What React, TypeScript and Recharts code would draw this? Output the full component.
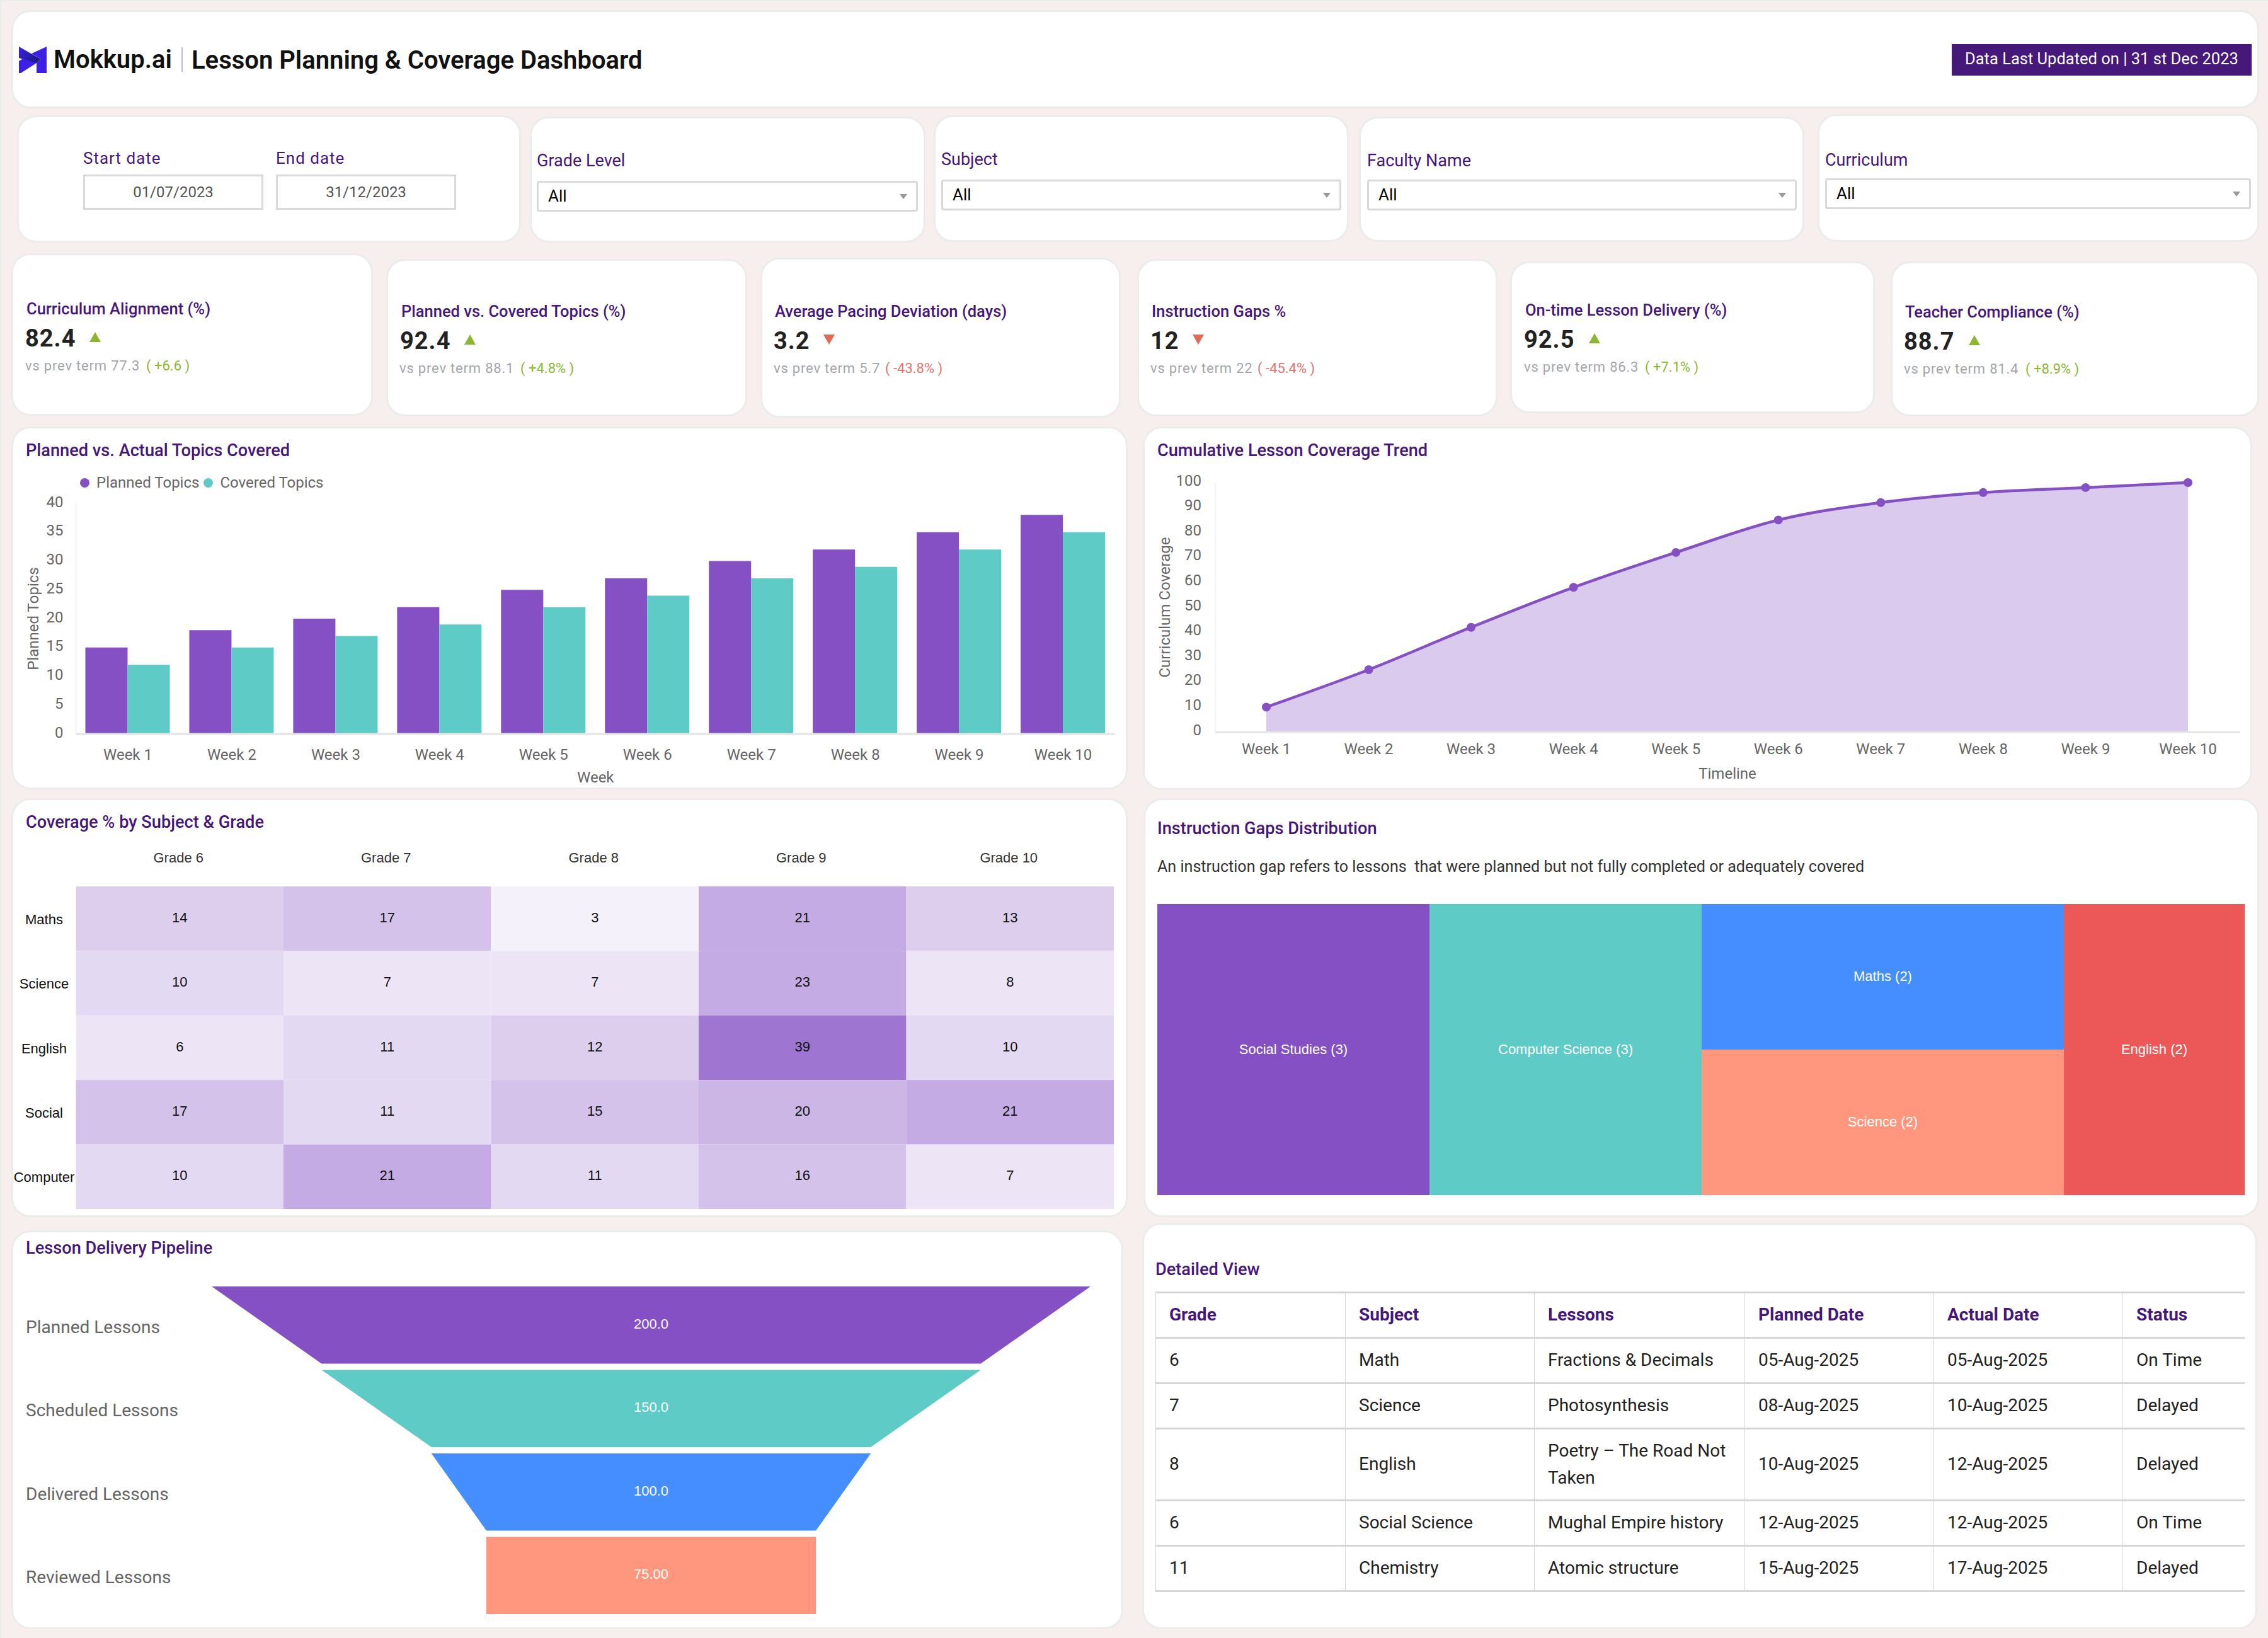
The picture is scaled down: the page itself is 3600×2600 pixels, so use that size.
import {
  BarChart, Bar, AreaChart, Area, ScatterChart, Scatter, Treemap, FunnelChart, Funnel, Trapezoid,
  XAxis, YAxis, Legend,
} from "recharts";

const WEEKS = ["Week 1", "Week 2", "Week 3", "Week 4", "Week 5", "Week 6", "Week 7", "Week 8", "Week 9", "Week 10"];
const PLANNED = [15, 18, 20, 22, 25, 27, 30, 32, 35, 38];
const COVERED = [12, 15, 17, 19, 22, 24, 27, 29, 32, 35];
const CUMULATIVE = [10, 25, 42, 58, 72, 85, 92, 96, 98, 100];

const GRADES = ["Grade 6", "Grade 7", "Grade 8", "Grade 9", "Grade 10"];
const SUBJECTS = ["Maths", "Science", "English", "Social", "Computer"];
const COVERAGE = [
  [14, 17, 3, 21, 13],
  [10, 7, 7, 23, 8],
  [6, 11, 12, 39, 10],
  [17, 11, 15, 20, 21],
  [10, 21, 11, 16, 7],
];

const GAPS = [
  { name: "Social Studies", value: 3 },
  { name: "Computer Science", value: 3 },
  { name: "Maths & Science", children: [{ name: "Maths", value: 2 }, { name: "Science", value: 2 }] },
  { name: "English", value: 2 },
];

const STAGES = ["Planned Lessons", "Scheduled Lessons", "Delivered Lessons", "Reviewed Lessons"];
const STAGE_VALUES = [200, 150, 100, 75];

const KPIS = [
  { title: "Curriculum Alignment (%)", value: "82.4", up: true, prev: "77.3", delta: "( +6.6 )" },
  { title: "Planned vs. Covered Topics (%)", value: "92.4", up: true, prev: "88.1", delta: "( +4.8% )" },
  { title: "Average Pacing Deviation (days)", value: "3.2", up: false, prev: "5.7", delta: "( -43.8% )" },
  { title: "Instruction Gaps %", value: "12", up: false, prev: "22", delta: "( -45.4% )" },
  { title: "On-time Lesson Delivery (%)", value: "92.5", up: true, prev: "86.3", delta: "( +7.1% )" },
  { title: "Teacher Compliance (%)", value: "88.7", up: true, prev: "81.4", delta: "( +8.9% )" },
];

const TABLE_HEAD = ["Grade", "Subject", "Lessons", "Planned Date", "Actual Date", "Status"];
const TABLE_ROWS = [
  ["6", "Math", "Fractions & Decimals", "05-Aug-2025", "05-Aug-2025", "On Time"],
  ["7", "Science", "Photosynthesis", "08-Aug-2025", "10-Aug-2025", "Delayed"],
  ["8", "English", "Poetry – The Road Not Taken", "10-Aug-2025", "12-Aug-2025", "Delayed"],
  ["6", "Social Science", "Mughal Empire history", "12-Aug-2025", "12-Aug-2025", "On Time"],
  ["11", "Chemistry", "Atomic structure", "15-Aug-2025", "17-Aug-2025", "Delayed"],
];

const PURPLE = "#8450c4";
const TEAL = "#5fcbc7";
const BLUE = "#448eff";
const CORAL = "#ff967d";
const RED = "#ec5857";
const INK = "#46177b";
const GREY = "#666666";
const FONT = "Roboto";
const SANS = "'Liberation Sans'";

const GAP_COLORS: Record<string, string> = {
  "Social Studies": PURPLE, "Computer Science": TEAL, Maths: BLUE, Science: CORAL, English: RED,
};
const STAGE_COLORS = [PURPLE, TEAL, BLUE, CORAL];

const barData = WEEKS.map((week, i) => ({ week, planned: PLANNED[i], covered: COVERED[i] }));
const areaData = WEEKS.map((week, i) => ({ week, coverage: CUMULATIVE[i] }));
const heatData = COVERAGE.flatMap((row, r) => row.map((v, c) => ({ col: c + 0.5, row: r + 0.5, v })));
const funnelData = STAGES.map((stage, i) => ({ stage, value: STAGE_VALUES[i], fill: STAGE_COLORS[i] }));

const axisTick = { fill: GREY, fontSize: 24, fontFamily: FONT };
const axisLabel = { fill: GREY, fontSize: 24, fontFamily: FONT };

// buckets, the scale is not quite linear
const heatFill = (v: number) => {
  const a = v <= 3 ? 0.08 : v <= 8 ? 0.15 : v <= 11 ? 0.22 : v <= 14 ? 0.28 : v <= 17 ? 0.35 : v <= 20 ? 0.42 : v <= 23 ? 0.48 : 0.79;
  return `rgb(${[132, 80, 196].map((c) => Math.round(255 - (255 - c) * a)).join(",")})`;
};

function Card({ x0, y0, x1, y1 }: { x0: number; y0: number; x1: number; y1: number }) {
  return (
    <div style={{
      position: "absolute", left: x0 - 1, top: y0 - 3, width: x1 - x0 + 2, height: y1 - y0 + 5, boxSizing: "border-box",
      background: "#fff", border: "3px solid #ececec", borderRadius: 30,
    }} />
  );
}

// text placed by its left edge and vertical centre
function T({ x, y, size, color, weight = 400, spacing = 0, font = FONT, children }: any) {
  return (
    <div style={{
      position: "absolute", left: x, top: y, transform: "translateY(-50%)", fontFamily: font, fontSize: size,
      color, fontWeight: weight, letterSpacing: spacing, whiteSpace: "pre", lineHeight: 1.2,
    }}>{children}</div>
  );
}

function Title({ x, y, children }: { x: number; y: number; children: string }) {
  return <T x={x} y={y} size={27.2} color={INK} weight={500}>{children}</T>;
}

function DateFilter({ x, label, value }: { x: number; label: string; value: string }) {
  return (
    <>
      <T x={x} y={252} size={26} color={INK} spacing={1}>{label}</T>
      <div style={{
        position: "absolute", left: x, top: 277, width: 286, height: 56, boxSizing: "border-box", border: "3px solid #d9d9d9",
        fontFamily: FONT, fontSize: 24, color: "#555", textAlign: "center", lineHeight: "50px",
      }}>{value}</div>
    </>
  );
}

function Select({ x0, x1, top, label, labelY }: { x0: number; x1: number; top: number; label: string; labelY: number }) {
  return (
    <>
      <T x={x0} y={labelY} size={27} color={INK}>{label}</T>
      <div style={{
        position: "absolute", left: x0, top, width: x1 - x0, height: 49, boxSizing: "border-box",
        border: "3px solid #d9d9d9", borderRadius: 4,
      }} />
      <T x={x0 + 18} y={top + 25} size={26} color="#000">All</T>
      <div style={{
        position: "absolute", left: x1 - 29, top: top + 21, width: 0, height: 0,
        borderLeft: "6px solid transparent", borderRight: "6px solid transparent", borderTop: "8px solid #999",
      }} />
    </>
  );
}

function Kpi({ k, x, y, triX, subX, deltaX }: any) {
  const color = k.up ? "#8db52f" : "#e06a55";
  return (
    <>
      <T x={x} y={y} size={25.5} color={INK} weight={500}>{k.title}</T>
      <T x={x - 2} y={y + 48} size={38} color="#222" weight={700} spacing={1}>{k.value}</T>
      <div style={{
        position: "absolute", left: triX - 9, top: y + 37, width: 0, height: 0,
        borderLeft: "9px solid transparent", borderRight: "9px solid transparent",
        ...(k.up ? { borderBottom: `16px solid ${color}` } : { borderTop: `16px solid ${color}` }),
      }} />
      <T x={subX} y={y + 91} size={22} color="#a3a6ab" spacing={0.8}>vs prev term {k.prev}</T>
      <T x={deltaX} y={y + 91} size={22} color={k.up ? "#8cb832" : "#e5736a"}>{k.delta}</T>
    </>
  );
}

function Chart({ left, top, children }: any) {
  return <div style={{ position: "absolute", left, top }}>{children}</div>;
}

const BarLegend = () => (
  <div style={{ display: "flex", alignItems: "center", fontFamily: FONT, fontSize: 24, color: GREY }}>
    {[["Planned Topics", PURPLE], ["Covered Topics", TEAL]].map(([name, c]) => (
      <span key={name} style={{ display: "inline-flex", alignItems: "center", marginRight: 7 }}>
        <i style={{ width: 15, height: 15, borderRadius: 8, background: c, marginRight: 11 }} />{name}
      </span>
    ))}
  </div>
);

const HEAT_W = 329.6;
const HEAT_H = 102.4;

function HeatCell({ cx, cy, payload }: any) {
  return (
    <g>
      <rect x={cx - HEAT_W / 2} y={cy - HEAT_H / 2} width={HEAT_W} height={HEAT_H} fill={heatFill(payload.v)} />
      <text x={cx} y={cy - 2} textAnchor="middle" dominantBaseline="central" fontFamily={SANS} fontSize={22} fill="#111">{payload.v}</text>
    </g>
  );
}

function GapCell(props: any) {
  const { x, y, width, height, name, children } = props;
  if (children && children.length) return <g />;
  return (
    <g>
      <rect x={x} y={y} width={width} height={height} fill={GAP_COLORS[name]} stroke="none" />
      <text x={x + width / 2} y={y + height / 2 - 1} textAnchor="middle" dominantBaseline="central" fontFamily={SANS} fontSize={22} fill="#fff">
        {`${name} (${props.value})`}
      </text>
    </g>
  );
}

const FUNNEL_GAP = 10;

function FunnelStage(props: any) {
  const { x, y, upperWidth, lowerWidth, height, fill, name, val } = props;
  const mid = y + (height - FUNNEL_GAP) / 2;
  return (
    <g>
      <Trapezoid x={x} y={y} upperWidth={upperWidth} lowerWidth={lowerWidth} height={height - FUNNEL_GAP} fill={fill} stroke="none" isUpdateAnimationActive={false} />
      <text x={x + upperWidth / 2} y={mid - 2} textAnchor="middle" dominantBaseline="central" fontFamily={SANS} fontSize={22} fill="#fff">
        {Number(val).toPrecision(4)}
      </text>
      <text x={22} y={mid + 3} dominantBaseline="central" fontFamily={FONT} fontSize={28} fill={GREY}>{name}</text>
    </g>
  );
}

const COL_X = [1834, 2135, 2435, 2769, 3069, 3369, 3562];
const ROW_H = [72, 72, 72, 114, 72, 72];

function DetailTable() {
  const cell: React.CSSProperties = {
    boxSizing: "border-box", padding: "0 20px 0 21px", borderLeft: "1.5px solid #d6d6d6",
    borderTop: "3px solid #d6d6d6", borderBottom: "3px solid #d6d6d6", lineHeight: "42.5px", textAlign: "left",
  };
  return (
    <table style={{
      position: "absolute", left: COL_X[0], top: 2050, width: COL_X[6] - COL_X[0], tableLayout: "fixed", borderCollapse: "collapse",
      fontFamily: FONT, fontSize: 28, color: "#222",
    }}>
      <colgroup>{COL_X.slice(0, 6).map((x, i) => <col key={x} style={{ width: COL_X[i + 1] - x }} />)}</colgroup>
      <thead>
        <tr style={{ height: ROW_H[0] }}>
          {TABLE_HEAD.map((h) => <th key={h} style={{ ...cell, color: INK, fontWeight: 700 }}>{h}</th>)}
        </tr>
      </thead>
      <tbody>
        {TABLE_ROWS.map((row, r) => (
          <tr key={r} style={{ height: ROW_H[r + 1] }}>
            {row.map((c, i) => <td key={i} style={{ ...cell, fontWeight: 400 }}>{c}</td>)}
          </tr>
        ))}
      </tbody>
    </table>
  );
}

export default function App() {
  return (
    <div style={{
      position: "absolute", left: 0, top: 0, width: 3600, height: 2600, boxSizing: "border-box", background: "#f6efed", overflow: "hidden",
      borderTop: "2px solid #ebecee", borderLeft: "2px solid #ebecee",
    }}>
      <div style={{ position: "absolute", left: -2, top: -2, width: 3600, height: 2600 }}>
        {/* header */}
        <Card x0={19} y0={19} x1={3585} y1={170} />
        <svg style={{ position: "absolute", left: 30, top: 74 }} width={45} height={43}>
          <defs>
            <linearGradient id="logoBand" x1="0" y1="0" x2="1" y2="0.6">
              <stop offset="0" stopColor="#3d1fe6" />
              <stop offset="1" stopColor="#1c1a86" />
            </linearGradient>
          </defs>
          <polygon points="0,23 10,17 28,26 3,42 0,42" fill="#3d1fe6" />
          <polygon points="44,0 44,42 28,42 28,26 35,20 20,11" fill="#3d1fe6" />
          <polygon points="0,0 35,20 28,26 0,18" fill="url(#logoBand)" />
        </svg>
        <T x={85} y={95} size={40} color="#111" weight={600}>Mokkup.ai</T>
        <div style={{ position: "absolute", left: 288, top: 75, width: 2, height: 39, background: "#b9b9d0" }} />
        <T x={304} y={96} size={40} color="#111" weight={600}>Lesson Planning &amp; Coverage Dashboard</T>
        <div style={{ position: "absolute", left: 3098, top: 70, width: 476, height: 50, background: "#45187a" }} />
        <T x={3119} y={93} size={25.5} color="#fff">Data Last Updated on | 31 st Dec 2023</T>

        {/* filters */}
        <Card x0={28} y0={186} x1={826} y1={383} />
        <Card x0={842} y0={188} x1={1468} y1={383} />
        <Card x0={1483} y0={186} x1={2140} y1={382} />
        <Card x0={2158} y0={188} x1={2863} y1={382} />
        <Card x0={2886} y0={184} x1={3585} y1={382} />
        <DateFilter x={132} label="Start date" value="01/07/2023" />
        <DateFilter x={438} label="End date" value="31/12/2023" />
        <Select x0={852} x1={1457} top={287} label="Grade Level" labelY={255} />
        <Select x0={1494} x1={2129} top={285} label="Subject" labelY={253} />
        <Select x0={2170} x1={2852} top={285} label="Faculty Name" labelY={255} />
        <Select x0={2897} x1={3573} top={283} label="Curriculum" labelY={254} />

        {/* kpis */}
        <Card x0={19} y0={405} x1={591} y1={658} />
        <Card x0={614} y0={414} x1={1185} y1={659} />
        <Card x0={1208} y0={412} x1={1778} y1={661} />
        <Card x0={1806} y0={414} x1={2376} y1={659} />
        <Card x0={2398} y0={418} x1={2975} y1={654} />
        <Card x0={3002} y0={418} x1={3585} y1={659} />
        <Kpi k={KPIS[0]} x={42} y={490} triX={151} subX={40} deltaX={232} />
        <Kpi k={KPIS[1]} x={637} y={494} triX={746} subX={634} deltaX={826} />
        <Kpi k={KPIS[2]} x={1230} y={494} triX={1316} subX={1228} deltaX={1405} />
        <Kpi k={KPIS[3]} x={1828} y={494} triX={1902} subX={1826} deltaX={1996} />
        <Kpi k={KPIS[4]} x={2421} y={492} triX={2531} subX={2419} deltaX={2611} />
        <Kpi k={KPIS[5]} x={3024} y={495} triX={3134} subX={3022} deltaX={3215} />

        {/* chart cards */}
        <Card x0={19} y0={680} x1={1789} y1={1251} />
        <Card x0={1815} y0={680} x1={3574} y1={1252} />
        <Card x0={19} y0={1270} x1={1789} y1={1930} />
        <Card x0={1816} y0={1270} x1={3585} y1={1930} />
        <Card x0={19} y0={1956} x1={1782} y1={2584} />
        <Card x0={1814} y0={1944} x1={3582} y1={2584} />

        <Title x={41} y={715}>Planned vs. Actual Topics Covered</Title>
        <Chart left={19} top={680}>
          <BarChart width={1770} height={571} data={barData} margin={{ top: 119, right: 19, bottom: 0, left: 0 }}
            barSize={67} barGap={0}>
            <XAxis dataKey="week" height={86} tick={axisTick} tickLine={false} tickSize={0} tickMargin={24} interval={0}
              axisLine={{ stroke: "#e4e4e4", strokeWidth: 3 }}
              label={{ value: "Week", position: "insideBottom", offset: 9, style: axisLabel }} />
            <YAxis width={101.5} domain={[0, 40]} ticks={[0, 5, 10, 15, 20, 25, 30, 35, 40]} tick={{ ...axisTick, dy: -3 }} tickLine={false}
              tickSize={0} tickMargin={20} axisLine={{ stroke: "#eeeeee", strokeWidth: 1.5 }}
              label={{ value: "Planned Topics", angle: -90, position: "insideLeft", offset: 33, style: { ...axisLabel, textAnchor: "middle" } }} />
            <Legend verticalAlign="middle" align="center" content={<BarLegend />}
              wrapperStyle={{ left: 108, top: 72, width: "auto" }} />
            <Bar dataKey="planned" name="Planned Topics" fill={PURPLE} isAnimationActive={false} />
            <Bar dataKey="covered" name="Covered Topics" fill={TEAL} isAnimationActive={false} />
          </BarChart>
        </Chart>

        <Title x={1837} y={715}>Cumulative Lesson Coverage Trend</Title>
        <Chart left={1815} top={680}>
          <AreaChart width={1759} height={572} data={areaData} margin={{ top: 86, right: 19, bottom: 0, left: 0 }}>
            <XAxis dataKey="week" height={90} padding={{ left: 81, right: 82 }} tick={axisTick} tickLine={false} tickSize={0}
              tickMargin={18} interval={0} axisLine={{ stroke: "#e4e4e4", strokeWidth: 3 }}
              label={{ value: "Timeline", position: "insideBottom", offset: 16, style: axisLabel }} />
            <YAxis width={114} domain={[0, 100]} ticks={[0, 10, 20, 30, 40, 50, 60, 70, 80, 90, 100]} tick={{ ...axisTick, dy: -4 }}
              tickLine={false} tickSize={0} tickMargin={22} axisLine={{ stroke: "#eeeeee", strokeWidth: 1.5 }}
              label={{ value: "Curriculum Coverage", angle: -90, position: "insideLeft", offset: 33, style: { ...axisLabel, textAnchor: "middle" } }} />
            <Area type="monotone" dataKey="coverage" stroke={PURPLE} strokeWidth={4.5} fill={PURPLE} fillOpacity={0.3}
              dot={{ r: 6, fill: PURPLE, stroke: PURPLE, strokeWidth: 2, fillOpacity: 1 }} isAnimationActive={false} />
          </AreaChart>
        </Chart>

        <Title x={41} y={1305}>Coverage % by Subject &amp; Grade</Title>
        <Chart left={19} top={1270}>
          <ScatterChart width={1770} height={659} margin={{ top: 0, right: 21, bottom: 10, left: 0 }}>
            <XAxis type="number" orientation="top" dataKey="col" domain={[0, 5]} ticks={[0.5, 1.5, 2.5, 3.5, 4.5]} height={137}
              axisLine={false} tickLine={false} interval={0}
              tick={({ x, payload }: any) => (
                <text x={x - 2} y={91} textAnchor="middle" dominantBaseline="central" fontFamily={SANS} fontSize={22} fill="#333">
                  {GRADES[payload.value - 0.5]}
                </text>
              )} />
            <YAxis type="number" dataKey="row" reversed domain={[0, 5]} ticks={[0.5, 1.5, 2.5, 3.5, 4.5]} width={101.5}
              axisLine={false} tickLine={false} interval={0}
              tick={({ y, payload }: any) => (
                <text x={51} y={y + 1} textAnchor="middle" dominantBaseline="central" fontFamily={SANS} fontSize={22} fill="#111">
                  {SUBJECTS[payload.value - 0.5]}
                </text>
              )} />
            <Scatter data={heatData} shape={<HeatCell />} isAnimationActive={false} />
          </ScatterChart>
        </Chart>

        <Title x={1837} y={1315}>Instruction Gaps Distribution</Title>
        <T x={1837} y={1376} size={25.1} color="#333">An instruction gap refers to lessons  that were planned but not fully completed or adequately covered</T>
        <Chart left={1837} top={1435}>
          <Treemap width={1726} height={462} data={GAPS} dataKey="value" nameKey="name" aspectRatio={1.618} stroke="none"
            content={<GapCell />} isAnimationActive={false} isUpdateAnimationActive={false} />
        </Chart>

        <Title x={41} y={1981}>Lesson Delivery Pipeline</Title>
        <Chart left={19} top={1954}>
          <FunnelChart width={1763} height={628} margin={{ top: 88, right: 51, bottom: 10, left: 317 }}>
            <Funnel data={funnelData} dataKey="value" nameKey="stage" lastShapeType="rectangle" shape={FunnelStage}
              stroke="none" isAnimationActive={false} />
          </FunnelChart>
        </Chart>

        <Title x={1834} y={2015}>Detailed View</Title>
        <DetailTable />
      </div>
    </div>
  );
}
